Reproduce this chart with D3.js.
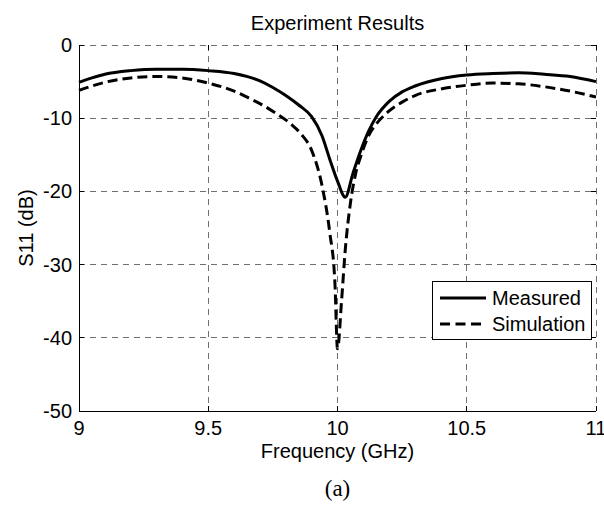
<!DOCTYPE html>
<html><head><meta charset="utf-8">
<script src="https://cdn.jsdelivr.net/npm/d3@7"></script>
<style>body{margin:0;background:#fff}svg{display:block}</style>
</head><body><svg id="c" width="604" height="509"></svg>
<script>
const measuredFreq = [9.0,9.05,9.1,9.2,9.3,9.4,9.5,9.6,9.7,9.75,9.8,9.85,9.9,9.94,9.97,10.0,10.03,10.06,10.09,10.12,10.15,10.2,10.25,10.3,10.4,10.5,10.6,10.7,10.8,10.9,11.0];
const measuredS11  = [-5.1,-4.5,-4.0,-3.5,-3.3,-3.3,-3.5,-3.9,-4.9,-5.8,-6.9,-8.2,-9.8,-12.4,-15.6,-18.6,-20.8,-17.5,-14.4,-11.8,-9.8,-7.7,-6.4,-5.6,-4.6,-4.1,-3.9,-3.8,-4.0,-4.3,-5.0];
const simFreq = [9.0,9.05,9.1,9.2,9.3,9.4,9.5,9.6,9.66,9.7,9.76,9.82,9.86,9.9,9.94,9.97,9.99,10.0,10.016,10.03,10.05,10.07,10.09,10.12,10.15,10.2,10.25,10.3,10.4,10.5,10.6,10.7,10.8,10.9,11.0];
const simS11  = [-6.2,-5.6,-5.1,-4.5,-4.3,-4.5,-5.2,-6.3,-7.3,-8.0,-9.3,-10.8,-12.2,-14.4,-19.2,-25.6,-32.5,-41.5,-34.8,-28.0,-21.6,-17.6,-15.2,-12.4,-10.8,-9.0,-7.8,-6.9,-6.0,-5.5,-5.2,-5.3,-5.7,-6.3,-7.1];
const xTicks = [9, 9.5, 10, 10.5, 11];
const xTickLabels = ["9","9.5","10","10.5","11"];
const yTicks = [0,-10,-20,-30,-40,-50];
const yTickLabels = ["0","-10","-20","-30","-40","-50"];
const seriesNames = ["Measured","Simulation"];

const svg = d3.select("#c");
const L=79, R=596, T=45, B=411;
const x = d3.scaleLinear().domain([9,11]).range([L,R]);
const y = d3.scaleLinear().domain([-50,0]).range([B,T]);
const font = "'Liberation Sans', Arial, sans-serif";

// grid
const g = svg.append("g");
g.selectAll(".gx").data(xTicks).join("line")
  .attr("x1",d=>x(d)).attr("x2",d=>x(d)).attr("y1",T).attr("y2",B)
  .attr("stroke","#707070").attr("stroke-width",1).attr("stroke-dasharray","6,5").attr("shape-rendering","crispEdges");
g.selectAll(".gy").data(yTicks).join("line")
  .attr("y1",d=>y(d)).attr("y2",d=>y(d)).attr("x1",L).attr("x2",R)
  .attr("stroke","#707070").attr("stroke-width",1).attr("stroke-dasharray","6,5").attr("shape-rendering","crispEdges");

// axes lines
svg.append("line").attr("x1",L).attr("x2",L).attr("y1",T).attr("y2",B).attr("stroke","#000").attr("shape-rendering","crispEdges");
svg.append("line").attr("x1",L).attr("x2",R).attr("y1",B).attr("y2",B).attr("stroke","#000").attr("shape-rendering","crispEdges");

// ticks (inward)
svg.selectAll(".tx").data(xTicks).join("line")
  .attr("x1",d=>x(d)).attr("x2",d=>x(d)).attr("y1",B).attr("y2",B-5).attr("stroke","#000").attr("shape-rendering","crispEdges");
svg.selectAll(".tx2").data(xTicks).join("line")
  .attr("x1",d=>x(d)).attr("x2",d=>x(d)).attr("y1",T).attr("y2",T+5).attr("stroke","#000").attr("shape-rendering","crispEdges");
svg.selectAll(".ty").data(yTicks).join("line")
  .attr("x1",L).attr("x2",L+5).attr("y1",d=>y(d)).attr("y2",d=>y(d)).attr("stroke","#000").attr("shape-rendering","crispEdges");
svg.selectAll(".ty2").data(yTicks).join("line")
  .attr("x1",R).attr("x2",R-5).attr("y1",d=>y(d)).attr("y2",d=>y(d)).attr("stroke","#000").attr("shape-rendering","crispEdges");

// tick labels
svg.selectAll(".xl").data(xTicks).join("text")
  .attr("x",d=>x(d)).attr("y",435).attr("text-anchor","middle")
  .attr("font-family",font).attr("font-size",20).text((d,i)=>xTickLabels[i]);
svg.selectAll(".yl").data(yTicks).join("text")
  .attr("x",72).attr("y",d=>y(d)+7).attr("text-anchor","end")
  .attr("font-family",font).attr("font-size",20).text((d,i)=>yTickLabels[i]);

// title & labels
svg.append("text").attr("x",(L+R)/2).attr("y",30).attr("text-anchor","middle")
  .attr("font-family",font).attr("font-size",20).text("Experiment Results");
svg.append("text").attr("x",(L+R)/2).attr("y",458).attr("text-anchor","middle")
  .attr("font-family",font).attr("font-size",20).text("Frequency (GHz)");
svg.append("text").attr("transform",`translate(33,${(T+B)/2}) rotate(-90)`).attr("text-anchor","middle")
  .attr("font-family",font).attr("font-size",20).text("S11 (dB)");
svg.append("text").attr("x",(L+R)/2).attr("y",496).attr("text-anchor","middle")
  .attr("font-family","'Liberation Serif', 'Times New Roman', serif").attr("font-size",23).text("(a)");

// curves
const line = d3.line().x(d=>x(d[0])).y(d=>y(d[1])).curve(d3.curveMonotoneX);
svg.append("path").datum(measuredFreq.map((f,i)=>[f,measuredS11[i]]))
  .attr("d",line).attr("fill","none").attr("stroke","#000").attr("stroke-width",3).attr("stroke-linejoin","round");
svg.append("path").datum(simFreq.map((f,i)=>[f,simS11[i]]))
  .attr("d",line).attr("fill","none").attr("stroke","#000").attr("stroke-width",3).attr("stroke-dasharray","10,5");

// legend
const lg = svg.append("g");
lg.append("rect").attr("x",432.5).attr("y",281.5).attr("width",159).attr("height",58)
  .attr("fill","#fff").attr("stroke","#000").attr("stroke-width",1);
seriesNames.forEach((n,i)=>{
  const yy = 298 + i*26;
  lg.append("line").attr("x1",440).attr("x2",486).attr("y1",yy).attr("y2",yy)
    .attr("stroke","#000").attr("stroke-width",3).attr("stroke-dasharray", i===1 ? "10,5.5" : null);
  lg.append("text").attr("x",492).attr("y",yy+7).attr("font-family",font).attr("font-size",20).text(n);
});
</script></body></html>
